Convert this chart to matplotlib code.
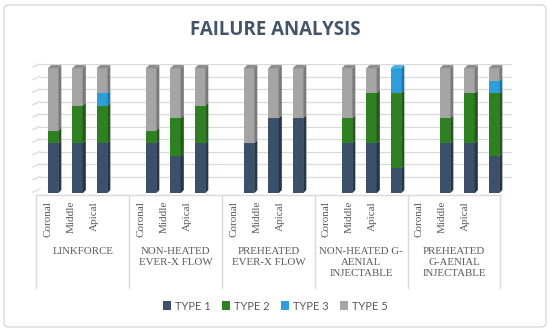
import matplotlib; matplotlib.use('Agg')
import matplotlib.pyplot as plt
from matplotlib.patches import Polygon, Rectangle, FancyBboxPatch
import numpy as np

groups = ['LINKFORCE', 'NON-HEATED\nEVER-X FLOW', 'PREHEATED\nEVER-X FLOW',
          'NON-HEATED G-\nAENIAL\nINJECTABLE', 'PREHEATED\nG-AENIAL\nINJECTABLE']
regions = ['Coronal', 'Middle', 'Apical']
series = ['TYPE 1', 'TYPE 2', 'TYPE 3', 'TYPE 5']
# percent per bar, order: group by group, Coronal/Middle/Apical
type1 = [40, 40, 40, 40, 30, 40, 40, 60, 60, 40, 40, 20, 40, 40, 30]
type2 = [10, 30, 30, 10, 30, 30, 0, 0, 0, 20, 40, 60, 20, 40, 50]
type3 = [0, 0, 10, 0, 0, 0, 0, 0, 0, 0, 0, 20, 0, 0, 10]
type5 = [50, 30, 20, 50, 40, 30, 60, 40, 40, 40, 20, 0, 40, 20, 10]

front = ['#3C506A', '#2F7F23', '#2E9EDB', '#A5A5A5']
side = ['#26364A', '#1F5A17', '#1C76A8', '#7A7A7A']
top = ['#52657E', '#3F9632', '#4FB2E6', '#8C8C8C']

W, H = 550, 332
fig = plt.figure(figsize=(5.5, 3.32), dpi=100)
fig.patches.append(FancyBboxPatch((4/W, 5/H), 542/W, 322/H, boxstyle='round,pad=0,rounding_size=0.01',
                                  transform=fig.transFigure, fc='white', ec='#D9D9D9', lw=1, zorder=-5))

def fax(l, r, t, b):
    return fig.add_axes([l/W, 1-b/H, (r-l)/W, (b-t)/H])

slot = 24.5
x0 = 53
# back wall with gridlines
wall = fax(40, 512, 64, 189)
wall.set_xlim(0, 1); wall.set_ylim(0, 100); wall.axis('off')
for v in range(0, 101, 10):
    wall.plot([0, 1], [v, v], color='#D9D9D9', lw=0.9)
    wall.plot([-0.015, 0], [v-2.5, v], color='#D9D9D9', lw=0.9, clip_on=False)

ax = fax(40, 510, 68.3, 193.3)
ax.set_xlim((40-x0)/slot, (510-x0)/slot); ax.set_ylim(0, 100); ax.axis('off')

pos = np.array([g*4 + i for g in range(len(groups)) for i in range(3)])
w = 0.42
dx, dy = 0.13, 2.6
bottom = np.zeros(len(pos))
vals = [type1, type2, type3, type5]
tops = np.zeros(len(pos), dtype=int)
for k, v in enumerate(vals):
    v = np.array(v, float)
    ax.bar(pos, v, w, bottom=bottom, color=front[k], lw=0, zorder=3)
    for x, b, h in zip(pos, bottom, v):
        if h <= 0: continue
        xr = x + w/2
        ax.add_patch(Polygon([(xr, b), (xr+dx, b+dy), (xr+dx, b+h+dy), (xr, b+h)],
                             closed=True, fc=side[k], lw=0, zorder=3, clip_on=False))
    tops[v > 0] = k
    bottom = bottom + v
for x, k, b in zip(pos, tops, bottom):
    xl, xr = x - w/2, x + w/2
    ax.add_patch(Polygon([(xl, b), (xl+dx, b+dy), (xr+dx, b+dy), (xr, b)],
                         closed=True, fc=top[k], lw=0, zorder=4, clip_on=False))

# category axis area (front edge of floor)
lab = fax(36.4, 500.4, 195, 288)
lab.set_xlim(-0.5, 19.5); lab.set_ylim(93, 0); lab.axis('off')
lab.plot([-0.5, 19.5], [0, 0], color='#D9D9D9', lw=1, clip_on=False)
for s in [-0.5, 3.5, 7.5, 11.5, 15.5, 19.5]:
    lab.plot([s, s], [0, 93], color='#D9D9D9', lw=1, clip_on=False)
for g, name in enumerate(groups):
    for i, r in enumerate(regions):
        lab.text(g*4 + i, 6, r, rotation=90, ha='center', va='top', fontsize=8,
                 family='Liberation Serif', color='#595959')
    lab.text(g*4 + 1.5, 52, name, ha='center', va='top', fontsize=7.8, linespacing=1.3,
             family='Liberation Serif', color='#595959', multialignment='center')

fig.text(0.5, 1-30/H, 'FAILURE ANALYSIS', ha='center', va='center', fontsize=13.5,
         fontweight='bold', color='#44546A', family='Open Sans')

handles = [Rectangle((0, 0), 1, 1, fc=c, lw=0) for c in front]
fig.legend(handles, series, loc='center', bbox_to_anchor=(0.5, 1-306/H), ncol=4, frameon=False,
           prop={'family': 'Lato', 'size': 8}, labelcolor='#595959', handlelength=0.8,
           handleheight=0.8, handletextpad=0.3, columnspacing=1.0)

fig.savefig('out.png', dpi=100)
